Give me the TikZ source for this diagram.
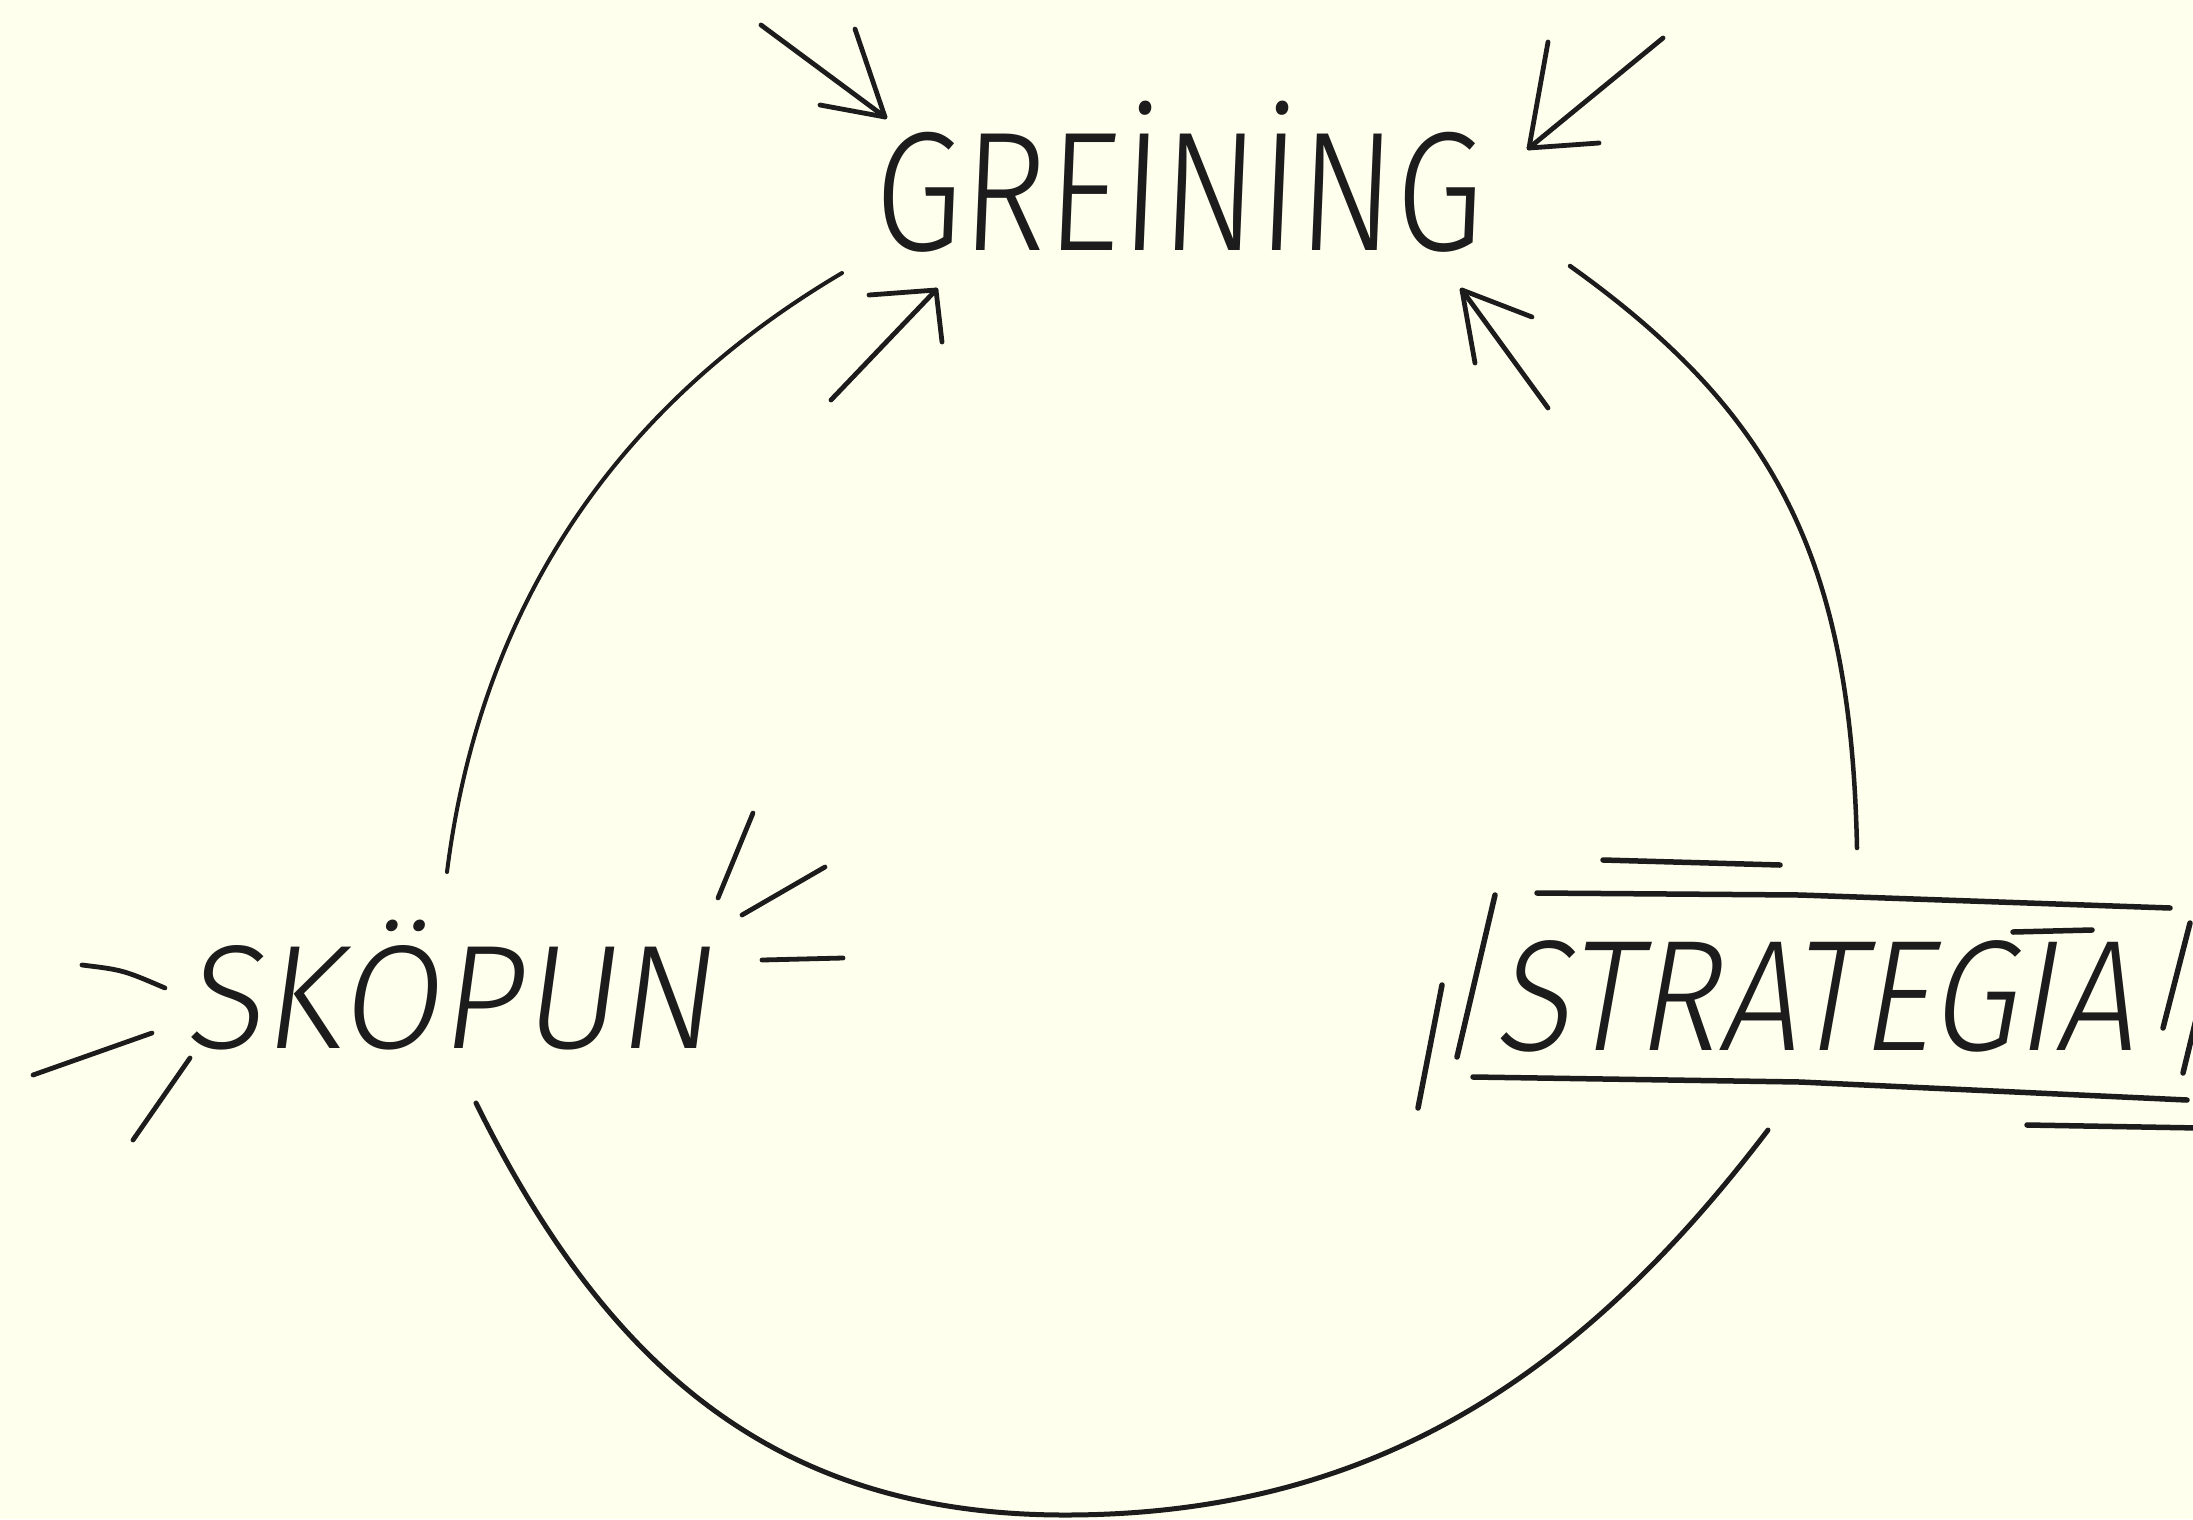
\documentclass[tikz,border=0pt]{standalone}
\usepackage{fontspec}
\usepackage{graphicx}
\IfFontExistsTF{Fira Sans Light}{\newcommand\handname{Fira Sans Light}}{\newcommand\handname{Fira Sans}}
\newfontfamily\handA[FakeSlant=0.05]{\handname}
\newfontfamily\handB[FakeSlant=0.14]{\handname}
\newfontfamily\handC[FakeSlant=0.2]{\handname}
\definecolor{paper}{RGB}{255,255,238}
\definecolor{ink}{RGB}{28,28,28}
\begin{document}
\begin{tikzpicture}[x=1pt,y=-1pt,line cap=round,line join=round,
  arcline/.style={draw=ink,line width=4.5pt},
  ray/.style={draw=ink,line width=4.8pt},
  framel/.style={draw=ink,line width=5.5pt},
  lbl/.style={inner sep=0pt,anchor=base west,text=ink}]
\fill[paper] (0,0) rectangle (2193,1519);
\useasboundingbox (0,0) rectangle (2193,1519);
\clip (0,0) rectangle (2193,1519);

% labels
\node[lbl] (greining) at (872,250) {\resizebox{610pt}{\height}{\fontsize{170}{170}\selectfont\handA GREİNİNG}};
\node[lbl] (skopun) at (184,1048) {\resizebox{528pt}{\height}{\fontsize{148}{148}\selectfont\handB SKÖPUN}};
\node[lbl] (strategia) at (1493,1050) {\resizebox{640pt}{\height}{\fontsize{158}{158}\selectfont\handC STRATEGIA}};

% loop arcs
\coordinate (gL) at (842,273);
\coordinate (sT) at (447,872);
\coordinate (gR) at (1570,266);
\coordinate (tT) at (1857,848);
\coordinate (sB) at (476,1103);
\coordinate (bot) at (1065,1515);
\coordinate (tB) at (1768,1130);
\draw[arcline,line width=4pt] (gL) .. controls (627,400) and (482,594) .. (sT);
\draw[arcline] (gR) .. controls (1782,417) and (1851,568) .. (tT);
\draw[arcline,line width=5pt] (sB) .. controls (609,1372) and (780,1515) .. (bot)
  .. controls (1380,1515) and (1586,1369) .. (tB);

% arrows pointing at GREINING
\coordinate (a1) at (885,117);
\draw[ray] (761,25) -- (a1);
\draw[ray] (855,29) -- (a1) -- (820,105);
\coordinate (a2) at (1529,148);
\draw[ray] (1663,38) -- (a2);
\draw[ray] (1548,42) -- (a2) -- (1599,143);
\coordinate (a3) at (936,290);
\draw[ray] (831,400) -- (a3);
\draw[ray] (869,295) -- (a3) -- (942,342);
\coordinate (a4) at (1462,290);
\draw[ray] (1548,408) -- (a4);
\draw[ray] (1532,317) -- (a4) -- (1475,363);

% rays around SKÖPUN
\draw[ray] (82,965) .. controls (123,970) .. (165,988);
\draw[ray] (33,1075) -- (152,1033);
\draw[ray] (133,1140) -- (190,1058);
\draw[ray] (753,813) -- (718,898);
\draw[ray] (825,867) -- (742,915);
\draw[ray] (762,960) -- (843,958);

% frame around STRATEGIA
\draw[framel] (1603,860) -- (1780,865);
\draw[framel] (1537,893) -- (1800,895) -- (2170,908);
\draw[framel] (1473,1077) -- (1800,1082) -- (2187,1100);
\draw[framel] (2027,1125) -- (2200,1128);
\draw[framel] (1442,985) -- (1418,1108);
\draw[framel] (1495,895) -- (1457,1057);
\draw[framel] (2190,923) -- (2163,1028);
\draw[framel] (2200,1003) -- (2183,1073);
\draw[framel] (2013,932) -- (2092,930);
\end{tikzpicture}
\end{document}
